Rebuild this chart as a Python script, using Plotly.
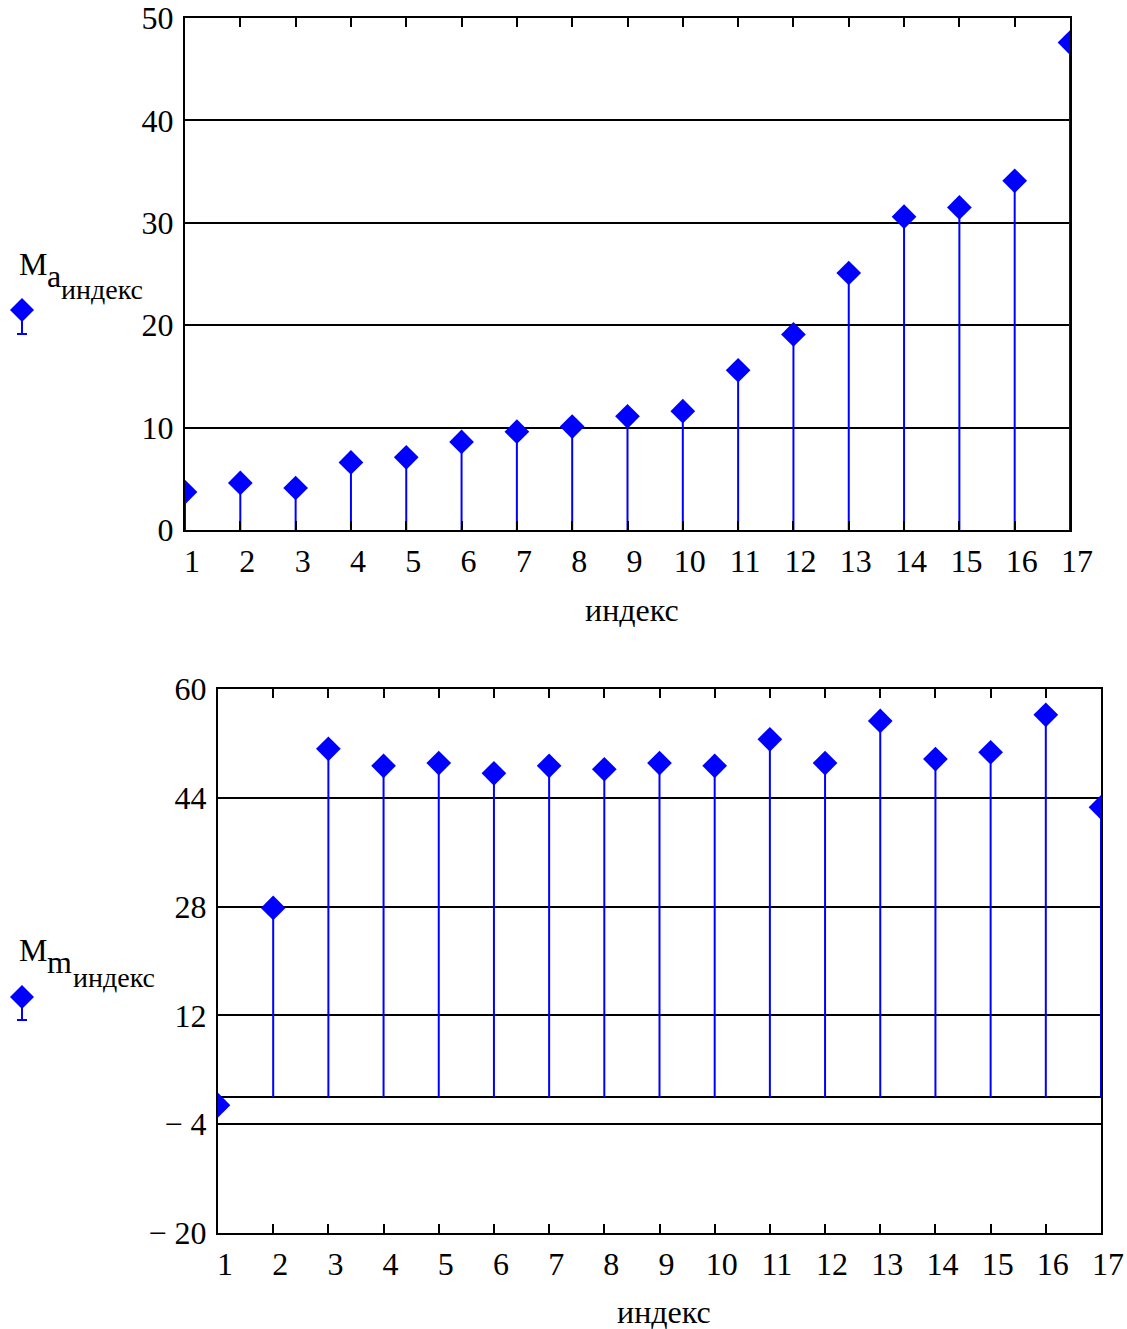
import plotly.graph_objects as go

# ---- data ----
index_vals = list(range(1, 18))
Ma_values = [3.7, 4.6, 4.1, 6.6, 7.1, 8.6, 9.6, 10.1, 11.1, 11.6, 15.6, 19.1, 25.1, 30.6, 31.5, 34.1, 47.6]
Mm_values = [-1.2, 27.8, 51.2, 48.7, 49.1, 47.6, 48.7, 48.2, 49.1, 48.7, 52.6, 49.1, 55.3, 49.7, 50.7, 56.2, 42.6]
top_yticks = [0, 10, 20, 30, 40, 50]
top_yticklabels = ["0", "10", "20", "30", "40", "50"]
bot_yticks = [-20, -4, 12, 28, 44, 60]
bot_yticklabels = ["\u2212 20", "\u2212 4", "12", "28", "44", "60"]
x_ticklabels = [str(i) for i in index_vals]
x_title = "индекс"

W, H = 1127, 1329
BLUE = "#0000FF"
FONT = "Liberation Serif"
FS = 32


def px(x):
    return x / W


def py(y):
    return 1 - y / H


def stems(xs, ys):
    sx, sy = [], []
    for x, y in zip(xs, ys):
        sx += [x, x, None]
        sy += [0, y, None]
    return sx, sy


fig = go.Figure()

sx, sy = stems(index_vals, Ma_values)
fig.add_trace(go.Scatter(x=sx, y=sy, mode="lines", line=dict(color=BLUE, width=2),
                         xaxis="x", yaxis="y", showlegend=False, hoverinfo="skip"))
fig.add_trace(go.Scatter(x=index_vals, y=Ma_values, mode="markers",
                         marker=dict(symbol="diamond", size=19, color=BLUE, line=dict(width=0)),
                         xaxis="x", yaxis="y", showlegend=False, cliponaxis=True))

sx, sy = stems(index_vals, Mm_values)
fig.add_trace(go.Scatter(x=sx, y=sy, mode="lines", line=dict(color=BLUE, width=2),
                         xaxis="x2", yaxis="y2", showlegend=False, hoverinfo="skip"))
fig.add_trace(go.Scatter(x=index_vals, y=Mm_values, mode="markers",
                         marker=dict(symbol="diamond", size=19, color=BLUE, line=dict(width=0)),
                         xaxis="x2", yaxis="y2", showlegend=False, cliponaxis=True))

xcommon = dict(tickvals=index_vals, ticktext=x_ticklabels, ticks="inside", ticklen=9,
               tickwidth=2, tickcolor="black", showline=True, linecolor="black", linewidth=2,
               mirror="ticks", showgrid=False, zeroline=False, automargin=False,
               tickfont=dict(family=FONT, size=FS, color="black"),
               ticklabelshift=7, ticklabelstandoff=2)
ycommon = dict(ticks="", showline=True, linecolor="black", linewidth=2, mirror=True,
               showgrid=True, gridcolor="black", gridwidth=2, automargin=False,
               tickfont=dict(family=FONT, size=FS, color="black"), ticklabelstandoff=3)

fig.update_layout(
    template="none",
    width=W, height=H,
    margin=dict(l=0, r=0, t=0, b=0, autoexpand=False),
    paper_bgcolor="white", plot_bgcolor="white",
    xaxis=dict(domain=[px(185), px(1070)], range=[1, 17], anchor="y", **xcommon),
    yaxis=dict(domain=[py(530), py(18)], range=[0, 50], anchor="x",
               tickvals=top_yticks, ticktext=top_yticklabels, zeroline=False, **ycommon),
    xaxis2=dict(domain=[px(218), px(1101)], range=[1, 17], anchor="y2", **xcommon),
    yaxis2=dict(domain=[py(1233), py(689)], range=[-20, 60], anchor="x2",
                tickvals=bot_yticks, ticktext=bot_yticklabels,
                zeroline=True, zerolinecolor="black", zerolinewidth=2, **ycommon),
)

ann_font = dict(family=FONT, size=FS, color="black")
annotations = [
    # axis titles
    dict(x=px(632), y=py(610), text=x_title, xanchor="center", yanchor="middle"),
    dict(x=px(664), y=py(1312), text=x_title, xanchor="center", yanchor="middle"),
    # top legend label
    dict(x=px(17), y=py(264), text="M", xanchor="left", yanchor="middle"),
    dict(x=px(45), y=py(276), text="a", xanchor="left", yanchor="middle"),
    dict(x=px(59), y=py(290), text="индекс", xanchor="left", yanchor="middle", font=dict(family=FONT, size=28, color="black")),
    # bottom legend label
    dict(x=px(17), y=py(950), text="M", xanchor="left", yanchor="middle"),
    dict(x=px(45), y=py(962), text="m", xanchor="left", yanchor="middle"),
    dict(x=px(71), y=py(977), text="индекс", xanchor="left", yanchor="middle", font=dict(family=FONT, size=28, color="black")),
]
for a in annotations:
    a.setdefault("font", ann_font)
    a.update(xref="paper", yref="paper", showarrow=False)
fig.update_layout(annotations=annotations)

# legend glyphs (diamond with stem)
shapes = []
for cy, bot in [(310, 334), (997, 1020)]:
    shapes.append(dict(type="path", xref="paper", yref="paper",
                       path=f"M {px(10)} {py(cy)} L {px(22)} {py(cy-12)} L {px(34)} {py(cy)} L {px(22)} {py(cy+12)} Z",
                       fillcolor=BLUE, line=dict(width=0)))
    shapes.append(dict(type="line", xref="paper", yref="paper", x0=px(22), x1=px(22), y0=py(cy), y1=py(bot),
                       line=dict(color=BLUE, width=2)))
    shapes.append(dict(type="line", xref="paper", yref="paper", x0=px(17), x1=px(27), y0=py(bot), y1=py(bot),
                       line=dict(color=BLUE, width=2)))
fig.update_layout(shapes=shapes)

fig.write_html("out.html")
